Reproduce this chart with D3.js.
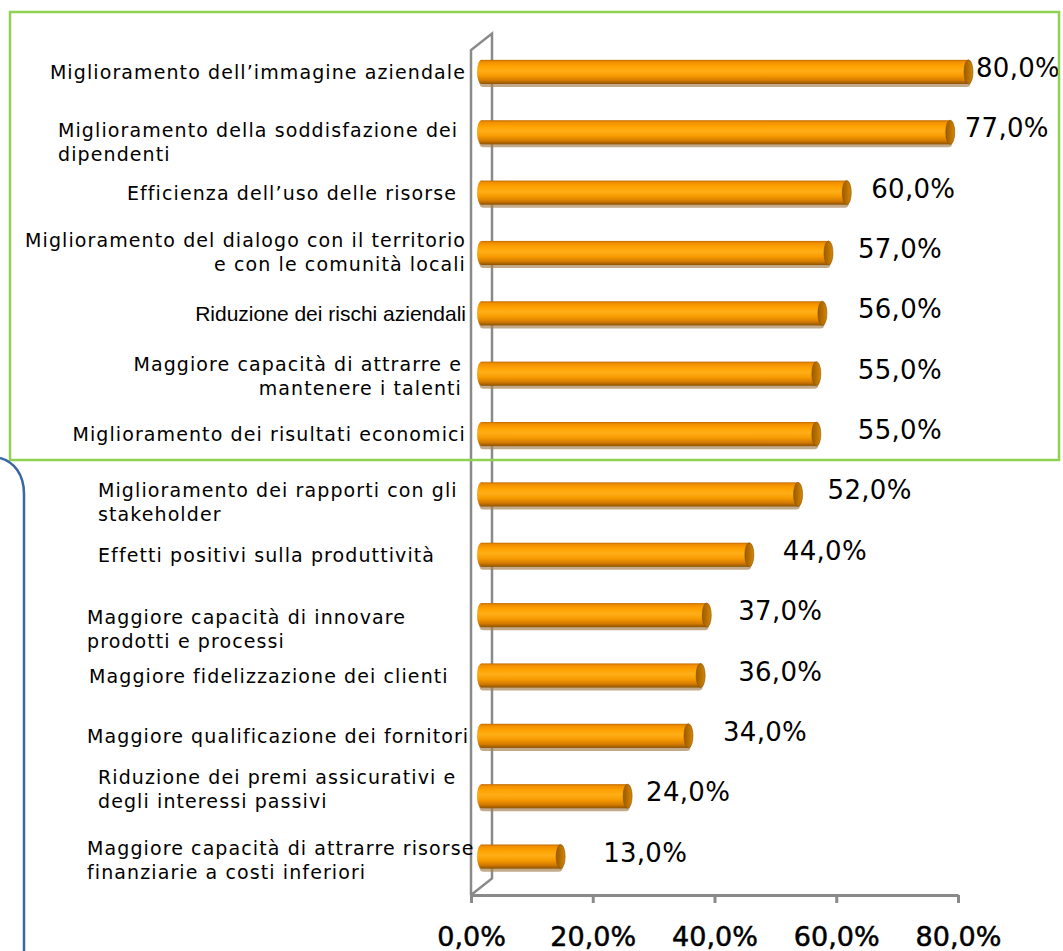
<!DOCTYPE html>
<html>
<head>
<meta charset="utf-8">
<script src="https://cdn.jsdelivr.net/npm/d3@7"></script>
<style>
  html, body { margin: 0; padding: 0; background: #fff; }
  svg { display: block; }
</style>
</head>
<body>
<svg id="chart" width="1063" height="951"></svg>
<script>
// Benefits reported, share of respondents
const categories = [
  ["Miglioramento dell’immagine aziendale"],
  ["Miglioramento della soddisfazione dei", "dipendenti"],
  ["Efficienza dell’uso delle risorse"],
  ["Miglioramento del dialogo con il territorio", "e con le comunità locali"],
  ["Riduzione dei rischi aziendali"],
  ["Maggiore capacità di attrarre e", "mantenere i talenti"],
  ["Miglioramento dei risultati economici"],
  ["Miglioramento dei rapporti con gli", "stakeholder"],
  ["Effetti positivi sulla produttività"],
  ["Maggiore capacità di innovare", "prodotti e processi"],
  ["Maggiore fidelizzazione dei clienti"],
  ["Maggiore qualificazione dei fornitori"],
  ["Riduzione dei premi assicurativi e", "degli interessi passivi"],
  ["Maggiore capacità di attrarre risorse", "finanziarie a costi inferiori"]
];
const values = [0.80, 0.77, 0.60, 0.57, 0.56, 0.55, 0.55, 0.52, 0.44, 0.37, 0.36, 0.34, 0.24, 0.13];
const tickValues = [0, 0.2, 0.4, 0.6, 0.8];

// Text-box layout for the category labels (anchor, x, first line shift)
const labelAnchor = ["end","start","end","end","end","end","end","start","start","start","start","start","start","start"];
const labelX      = [466, 58, 457, 466, 466, 462, 466, 98, 98, 87, 89, 87, 98, 87];
const labelShift  = [0, -2, 0, -13, 0, -10, 0, -4, 0, 2, 0, 0, -19, -9];
// Manually dragged data labels: horizontal gap after the bar end
const valueGap    = [9, 10, 20, 25, 31, 37, 37, 25, 29, 27, 33, 30, 14, 38];

const fmt = v => d3.format(".1f")(v * 100).replace(".", ",") + "%";

const svg = d3.select("#chart");
const W = 1063, H = 951;

// 3D plot frame: front plane and depth offset of the back wall
const front = { left: 471, right: 958, top: 50, bottom: 895 };
const depth = { dx: 21, dy: -16.5 };
const mid = { dx: depth.dx / 2, dy: depth.dy / 2 };

const x = d3.scaleLinear().domain([0, 0.8]).range([front.left, front.right]);
const y = d3.scaleBand()
  .domain(d3.range(categories.length))
  .range([front.top + mid.dy, front.bottom + mid.dy])
  .paddingInner(0.6)
  .paddingOuter(0.3);

// Gradient for the cylinder bodies
const defs = svg.append("defs");
const grad = defs.append("linearGradient")
  .attr("id", "cyl").attr("x1", 0).attr("y1", 0).attr("x2", 0).attr("y2", 1);
[
  [0, "#c06a00"], [0.08, "#f08e00"], [0.25, "#ffa200"], [0.45, "#ffae18"],
  [0.65, "#f79b00"], [0.85, "#d47a00"], [1, "#8c5300"]
].forEach(([o, c]) => grad.append("stop").attr("offset", o).attr("stop-color", c));

const capGrad = defs.append("linearGradient")
  .attr("id", "cap").attr("x1", 0).attr("y1", 0).attr("x2", 1).attr("y2", 0);
[[0, "#9a5c00"], [0.6, "#bd7400"], [1, "#d88800"]]
  .forEach(([o, c]) => capGrad.append("stop").attr("offset", o).attr("stop-color", c));

// Side wall edges and category axis
const axisColor = "#8a8a8a";
const wall = svg.append("g").attr("stroke", axisColor).attr("stroke-width", 2.5).attr("fill", "none");
wall.append("path").attr("d", d3.line()([
  [front.left, front.bottom], [front.left, front.top],
  [front.left + depth.dx, front.top + depth.dy],
  [front.left + depth.dx, front.bottom + depth.dy],
  [front.left, front.bottom]
]));

// Value axis
const xAxis = svg.append("g")
  .attr("transform", `translate(0,${front.bottom})`)
  .call(d3.axisBottom(x).tickValues(tickValues).tickFormat(fmt).tickSize(8).tickSizeOuter(0).tickPadding(24));
xAxis.select(".domain").attr("stroke", axisColor).attr("stroke-width", 3);
xAxis.selectAll(".tick line").attr("stroke", axisColor).attr("stroke-width", 3);
xAxis.selectAll(".tick text")
  .attr("font-family", "'DejaVu Sans', Verdana, sans-serif")
  .attr("font-size", 27)
  .attr("fill", "#000")
  .attr("stroke", "#000").attr("stroke-width", 0.5);

// Bars
const bars = svg.append("g").selectAll("g.bar")
  .data(values.map((v, i) => ({ v, i })))
  .join("g").attr("class", "bar");

const x0 = d => x(0) + mid.dx;
const x1 = d => x(d.v) + mid.dx;
const bh = y.bandwidth();
const rx = 4.5;

bars.append("rect") // shadow
  .attr("x", d => x0(d) - 2)
  .attr("y", d => y(d.i) + 3)
  .attr("width", d => x1(d) - x0(d) + 4)
  .attr("height", bh)
  .attr("rx", 4)
  .attr("fill", "#a8865a").attr("opacity", 0.7);

bars.append("ellipse") // rounded left end
  .attr("cx", d => x0(d)).attr("cy", d => y(d.i) + bh / 2)
  .attr("rx", rx).attr("ry", bh / 2)
  .attr("fill", "url(#cyl)");

bars.append("rect")
  .attr("x", d => x0(d))
  .attr("y", d => y(d.i))
  .attr("width", d => x1(d) - x0(d))
  .attr("height", bh)
  .attr("fill", "url(#cyl)");

bars.append("ellipse") // right end cap
  .attr("cx", d => x1(d)).attr("cy", d => y(d.i) + bh / 2)
  .attr("rx", rx).attr("ry", bh / 2)
  .attr("fill", "url(#cap)")
  .attr("stroke", "#8c5200").attr("stroke-width", 0.6);

// Data labels
svg.append("g").selectAll("text")
  .data(values.map((v, i) => ({ v, i })))
  .join("text")
  .attr("x", d => Math.min(x1(d) + rx + valueGap[d.i], W - 87))
  .attr("y", d => y(d.i) + bh / 2 - 4)
  .attr("dominant-baseline", "central")
  .attr("font-family", "'DejaVu Sans', Verdana, sans-serif")
  .attr("font-size", 26)
  .attr("letter-spacing", 0.3)
  .attr("fill", "#000")
  .text(d => fmt(d.v));

// Category labels
const labels = svg.append("g").selectAll("text")
  .data(categories.map((lines, i) => ({ lines, i })))
  .join("text")
  .attr("text-anchor", d => labelAnchor[d.i])
  .attr("font-family", d => d.i === 4 ? "'Liberation Sans', Arial, sans-serif" : "'DejaVu Sans', Verdana, sans-serif")
  .attr("font-size", d => d.i === 4 ? 21 : 19)
  .attr("letter-spacing", d => d.i === 4 ? 0 : 1.1)
  .attr("fill", "#000");

labels.each(function (d) {
  const t = d3.select(this);
  const cy = y(d.i) + bh / 2;
  const lh = 24;
  d.lines.forEach((line, k) => {
    t.append("tspan")
      .attr("x", labelX[d.i])
      .attr("y", (d.lines.length === 1 ? cy : cy + labelShift[d.i]) + k * lh)
      .attr("dominant-baseline", "central")
      .text(line);
  });
});

// Highlight frame around the leading benefits
svg.append("rect")
  .attr("x", 10).attr("y", 12)
  .attr("width", 1049).attr("height", 448)
  .attr("fill", "none")
  .attr("stroke", "#92d050").attr("stroke-width", 2.5);

// Bracket for the remaining benefits
svg.append("path")
  .attr("d", "M0,458 C14,462 24,474 24,494 L24,951")
  .attr("fill", "none")
  .attr("stroke", "#3a67a3").attr("stroke-width", 2.5);
</script>
</body>
</html>
